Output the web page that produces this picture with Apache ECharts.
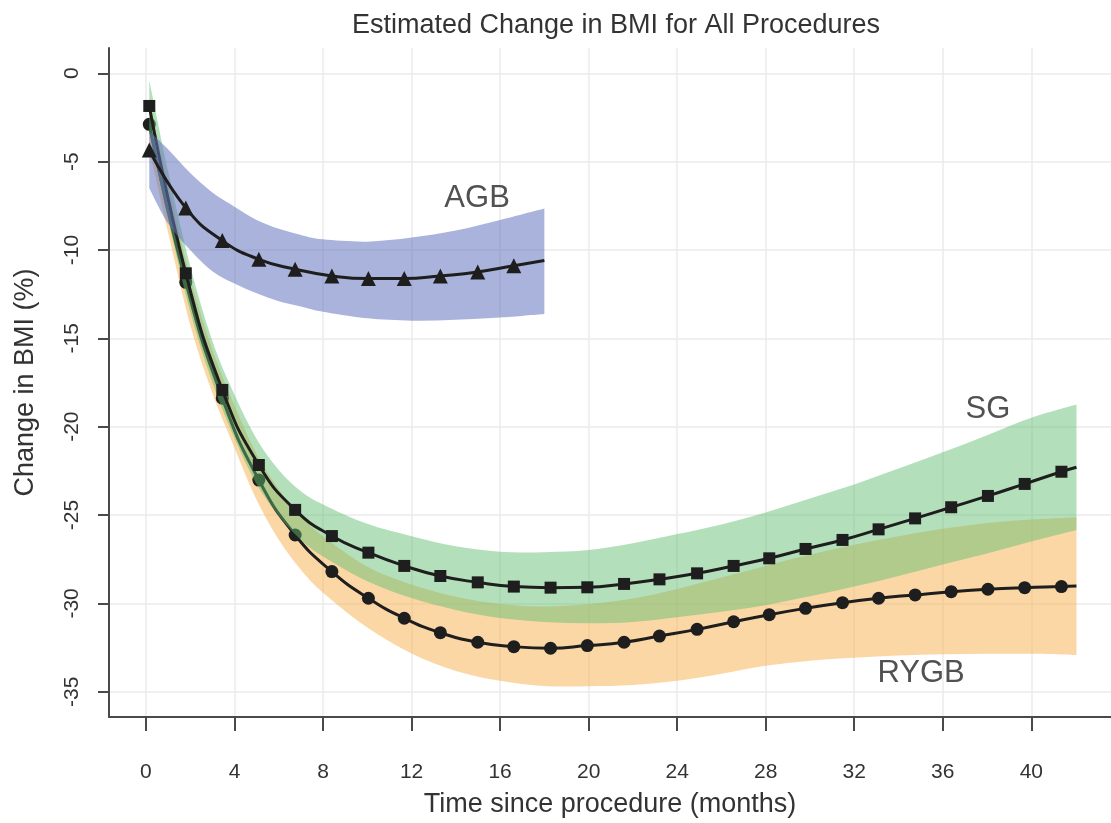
<!DOCTYPE html>
<html>
<head>
<meta charset="utf-8">
<title>Estimated Change in BMI for All Procedures</title>
<script src="https://cdn.jsdelivr.net/npm/echarts@6/dist/echarts.min.js"></script>
<style>
html, body { margin: 0; padding: 0; background: #fff; }
#main { width: 1111px; height: 823px; }
</style>
</head>
<body>
<div id="main"></div>
<script>
// 基于准备好的dom，初始化echarts实例
var myChart = echarts.init(document.getElementById('main'));

// 估计值（标记点）
var markerMonths = [0.15, 1.8, 3.45, 5.1, 6.74, 8.4, 10.05, 11.67, 13.3, 14.99, 16.62, 18.28, 19.94,
	21.6, 23.2, 24.9, 26.55, 28.16, 29.8, 31.47, 33.1, 34.75, 36.38, 38.04, 39.7, 41.36];
var sgValues = [-1.85, -11.32, -17.92, -22.17, -24.71, -26.19, -27.13, -27.88, -28.45, -28.81, -29.05, -29.11, -29.09,
	-28.9, -28.64, -28.3, -27.88, -27.45, -26.92, -26.41, -25.81, -25.19, -24.56, -23.92, -23.24, -22.55];
var rygbValues = [-2.89, -11.83, -18.39, -23.02, -26.13, -28.2, -29.71, -30.84, -31.66, -32.2, -32.45, -32.54, -32.39,
	-32.2, -31.85, -31.47, -31.04, -30.64, -30.28, -29.96, -29.71, -29.52, -29.34, -29.2, -29.11, -29.05];
var agbValues = [-4.34, -7.62, -9.47, -10.53, -11.09, -11.47, -11.62, -11.62, -11.47, -11.25, -10.89];
// 曲线终点
var sgEnd = [42.04, -22.3];
var rygbEnd = [42.04, -29.02];
var agbEnd = [18, -10.6];

// 置信区间
var bandMonths = [0.15, 1, 2, 3, 4, 5, 6, 7, 8, 10, 12, 14, 16, 18, 20, 22, 24, 26, 28, 30, 32, 34, 36, 38, 40, 42.04];
var sgUpper = [-0.4, -5.55, -10.9, -15.15, -18.2, -20.7, -22.45, -23.65, -24.4, -25.5, -26.2, -26.77, -27.08, -27.1,
	-26.98, -26.6, -26.08, -25.53, -24.85, -24.06, -23.27, -22.37, -21.45, -20.48, -19.5, -18.75];
var sgLower = [-3.3, -8.25, -13.5, -17.5, -20.65, -23.25, -25.05, -26.4, -27.35, -28.75, -29.7, -30.37, -30.83, -31.05,
	-31.13, -31.05, -30.78, -30.48, -30.1, -29.6, -29.05, -28.45, -27.8, -27.18, -26.5, -25.85];
var rygbUpper = [-1.5, -6.3, -11.55, -15.65, -18.8, -21.55, -23.55, -25.05, -26.2, -27.92, -28.93, -29.62, -30.03, -30.18,
	-30.04, -29.72, -29.18, -28.53, -27.88, -27.24, -26.68, -26.2, -25.78, -25.45, -25.25, -25.12];
var rygbLower = [-4.3, -9.0, -14.25, -18.1, -21.2, -24.15, -26.4, -28.1, -29.4, -31.37, -32.83, -33.82, -34.38, -34.68,
	-34.69, -34.62, -34.38, -33.98, -33.53, -33.24, -33.08, -32.95, -32.88, -32.85, -32.85, -32.92];
var agbBandMonths = [0.15, 1, 2, 3, 4, 5, 6, 7, 8, 10, 12, 14, 16, 18];
var agbUpper = [-3.3, -4.3, -5.65, -6.75, -7.55, -8.3, -8.8, -9.15, -9.4, -9.53, -9.3, -8.9, -8.3, -7.65];
var agbLower = [-6.5, -8.5, -10.0, -11.2, -11.9, -12.45, -12.9, -13.2, -13.5, -13.87, -14.0, -13.95, -13.82, -13.62];

// 刻度
var xTicks = [0, 4, 8, 12, 16, 20, 24, 28, 32, 36, 40];
var yTicks = [0, -5, -10, -15, -20, -25, -30, -35];

// 曲线名称标注
var labelNames = ['AGB', 'SG', 'RYGB'];
var labelSpots = [[14.96, -7.07], [38.04, -19.05], [35.02, -33.96]];

var fontFamily = '"Liberation Sans", Arial, sans-serif';
var textColor = '#333';
var lineColor = '#1e1e1e';

function markerLine(months, values, end) {
	var pts = months.slice(0, values.length).map(function (m, i) { return [m, values[i]]; });
	pts.push({ value: end, symbol: 'none' });
	return pts;
}

// 平滑曲线（Catmull-Rom -> 贝塞尔），坐标已经是像素
function smoothPath(pts) {
	var d = '';
	for (var i = 0; i < pts.length - 1; i++) {
		var p0 = pts[i - 1] || pts[i], p1 = pts[i], p2 = pts[i + 1], p3 = pts[i + 2] || p2;
		var c1x = p1[0] + (p2[0] - p0[0]) / 6, c1y = p1[1] + (p2[1] - p0[1]) / 6;
		var c2x = p2[0] - (p3[0] - p1[0]) / 6, c2y = p2[1] - (p3[1] - p1[1]) / 6;
		d += ' C' + c1x + ' ' + c1y + ' ' + c2x + ' ' + c2y + ' ' + p2[0] + ' ' + p2[1];
	}
	return d;
}

var seriesArr = [];
var bands = [
	{ name: 'RYGB', months: bandMonths, lower: rygbLower, upper: rygbUpper, color: 'rgba(247,176,76,0.5)' },
	{ name: 'SG', months: bandMonths, lower: sgLower, upper: sgUpper, color: 'rgba(96,190,112,0.48)' },
	{ name: 'AGB', months: agbBandMonths, lower: agbLower, upper: agbUpper, color: 'rgba(100,117,190,0.55)' }
];
var lines = {
	RYGB: { data: markerLine(markerMonths, rygbValues, rygbEnd), symbol: 'circle', size: 13 },
	SG: { data: markerLine(markerMonths, sgValues, sgEnd), symbol: 'rect', size: 12 },
	AGB: { data: markerLine(markerMonths, agbValues, agbEnd), symbol: 'triangle', size: 15 }
};

bands.forEach(function (b, index) {
	var z = 2 + index * 2;
	seriesArr.push({
		name: b.name + ' band',
		type: 'custom',
		silent: true,
		z: z,
		clip: true,
		data: [[b.months[0], b.upper[0]]],
		renderItem: function (params, api) {
			var up = b.months.map(function (m, i) { return api.coord([m, b.upper[i]]); });
			var lo = b.months.map(function (m, i) { return api.coord([m, b.lower[i]]); }).reverse();
			var d = 'M' + up[0][0] + ' ' + up[0][1] + smoothPath(up) +
				' L' + lo[0][0] + ' ' + lo[0][1] + smoothPath(lo) + ' Z';
			return { type: 'path', shape: { pathData: d }, style: { fill: b.color, stroke: null } };
		}
	});
	var l = lines[b.name];
	seriesArr.push({
		name: b.name,
		type: 'line',
		smooth: true,
		z: z + 1,
		symbol: l.symbol,
		symbolSize: l.size,
		showAllSymbol: true,
		lineStyle: { color: lineColor, width: 3 },
		itemStyle: { color: lineColor },
		data: l.data
	});
});

seriesArr.push({
	name: 'labels',
	type: 'scatter',
	z: 10,
	symbolSize: 1,
	itemStyle: { color: 'rgba(0,0,0,0)' },
	label: {
		show: true,
		position: 'inside',
		formatter: function (p) { return labelNames[p.dataIndex]; },
		fontSize: 31,
		fontFamily: fontFamily,
		color: '#262626'
	},
	data: labelSpots
});

option = {
	animation: false,
	backgroundColor: '#fff',
	title: {
		text: 'Estimated Change in BMI for All Procedures',
		left: 611,
		top: 7,
		textAlign: 'center',
		textStyle: { color: textColor, fontSize: 27, fontWeight: 'normal', fontFamily: fontFamily }
	},
	grid: { left: 109, right: 0, top: 48, bottom: 106 },
	xAxis: {
		type: 'value',
		min: -1.67,
		max: 43.6,
		name: 'Time since procedure (months)',
		nameLocation: 'middle',
		nameGap: 74,
		nameTextStyle: { color: textColor, fontSize: 27, fontFamily: fontFamily },
		axisLine: { onZero: false, lineStyle: { color: '#4a4a4a', width: 2 } },
		axisTick: { show: true, customValues: xTicks, length: 14, lineStyle: { color: '#4a4a4a', width: 2 } },
		axisLabel: { customValues: xTicks, margin: 45, fontSize: 21, color: textColor, fontFamily: fontFamily },
		splitLine: { show: true, lineStyle: { color: '#ebebeb', width: 1.5 } }
	},
	yAxis: {
		type: 'value',
		min: -36.43,
		max: 1.43,
		name: 'Change in BMI (%)',
		nameLocation: 'middle',
		nameRotate: 90,
		nameGap: 70,
		nameTextStyle: { color: textColor, fontSize: 27, fontFamily: fontFamily },
		axisLine: { show: true, onZero: false, lineStyle: { color: '#4a4a4a', width: 2 } },
		axisTick: { show: true, customValues: yTicks, length: 11, lineStyle: { color: '#4a4a4a', width: 2 } },
		axisLabel: { customValues: yTicks, rotate: 90, margin: 26, fontSize: 21, color: textColor, fontFamily: fontFamily },
		splitLine: { show: true, lineStyle: { color: '#ebebeb', width: 1.5 } }
	},
	series: seriesArr
};
// 使用刚指定的配置项和数据显示图表。
myChart.setOption(option);
</script>
</body>
</html>
